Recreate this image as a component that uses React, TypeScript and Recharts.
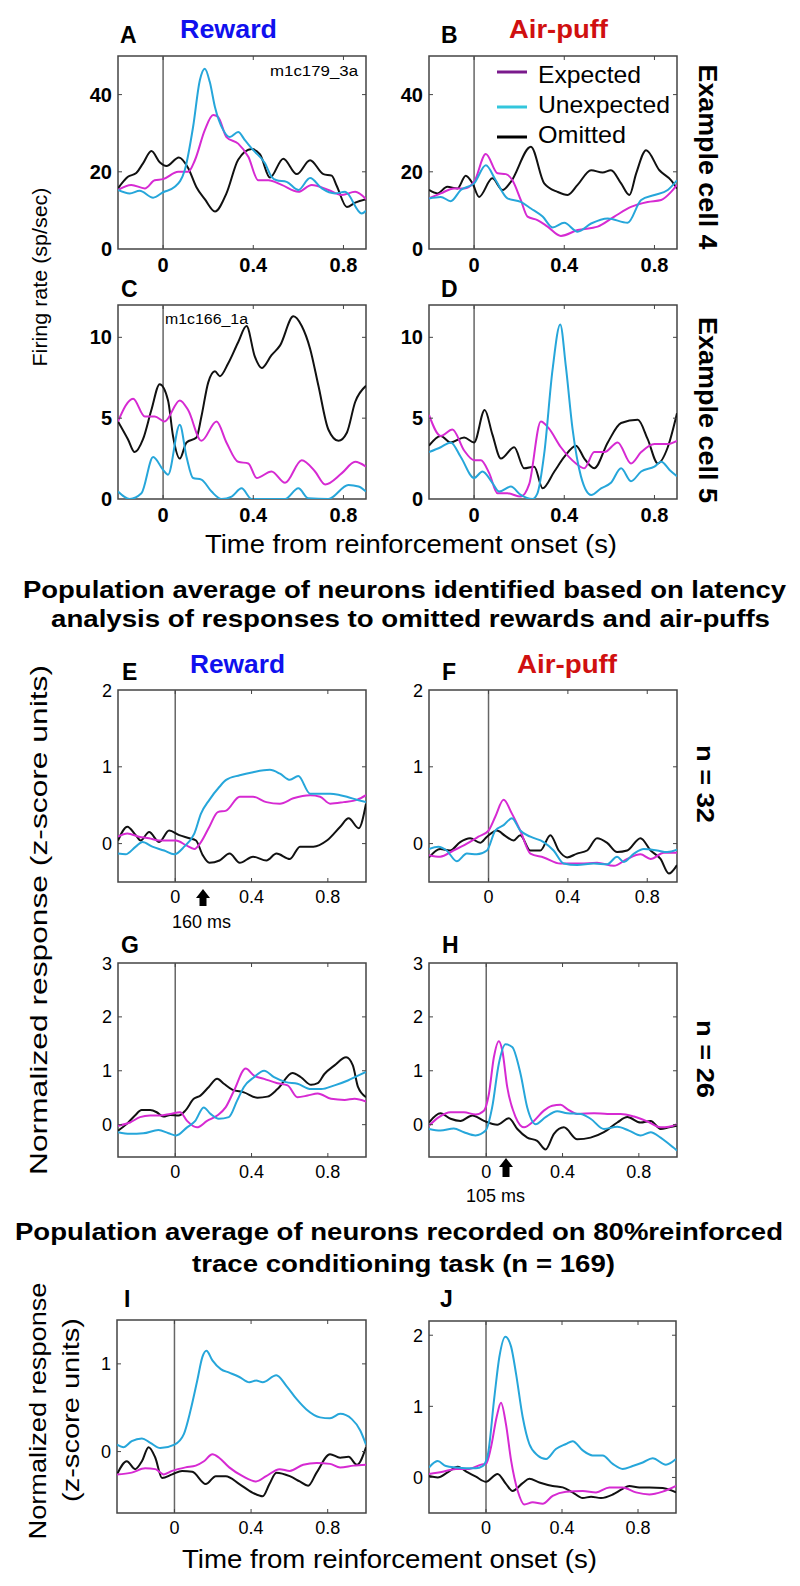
import React from 'react'
import { LineChart, Line, XAxis, YAxis, ReferenceLine, ReferenceArea } from 'recharts'

type Pt = [number, number]

// ── A: reward, example cell 4 ────────────────────────────────────────────
const aExp: Pt[] = [[-0.2,15.3],[-0.141,16.6],[-0.081,15.7],[-0.037,17.8],[0,18.1],[0.067,20],[0.111,20],[0.141,23],[0.185,30.8],[0.222,34.7],[0.244,34.2],[0.281,29],[0.333,27.3],[0.378,23.9],[0.422,17.8],[0.467,17.8],[0.526,16.6],[0.6,14.8],[0.659,16.6],[0.733,15.3],[0.793,14],[0.852,14.8],[0.9,12.9]]
const aUnexp: Pt[] = [[-0.2,15.3],[-0.148,14.4],[-0.104,15.1],[-0.044,13.3],[0,14.7],[0.052,16.1],[0.096,20.4],[0.133,31.6],[0.163,43.7],[0.185,46.7],[0.207,43.3],[0.23,36.8],[0.267,30.8],[0.296,29],[0.333,30.3],[0.363,28.2],[0.4,25.6],[0.452,22.2],[0.481,18.7],[0.504,17.8],[0.548,17.4],[0.6,15.3],[0.652,18.4],[0.704,15.7],[0.763,14.4],[0.807,14.8],[0.881,9.2],[0.9,9.9]]
const aOmit: Pt[] = [[-0.2,15.7],[-0.156,18.7],[-0.119,19.7],[-0.089,22.2],[-0.052,25.4],[-0.015,22.5],[0.015,21.5],[0.07,23.7],[0.111,21],[0.148,16],[0.185,12.9],[0.23,9.7],[0.281,14.4],[0.333,23.1],[0.393,25.9],[0.43,24.5],[0.474,18.5],[0.533,23.4],[0.593,19.4],[0.652,23],[0.711,19.4],[0.748,19],[0.77,16.4],[0.815,10.9],[0.852,12],[0.9,12.9]]

// ── B: air-puff, example cell 4 ──────────────────────────────────────────
const bExp: Pt[] = [[-0.2,13.1],[-0.148,14.4],[-0.089,15.7],[-0.044,15.7],[0,17.4],[0.052,24.6],[0.104,19.6],[0.141,19.4],[0.17,17.8],[0.207,12.7],[0.237,8.4],[0.281,7.5],[0.326,5.8],[0.385,3.4],[0.459,4.9],[0.548,5.8],[0.622,8.4],[0.696,10.9],[0.77,12.2],[0.83,12.7],[0.874,14.8],[0.9,16.6]]
const bUnexp: Pt[] = [[-0.2,13.1],[-0.148,13.5],[-0.104,12.4],[-0.059,15.3],[0,17],[0.052,21.7],[0.096,17.8],[0.148,13.1],[0.207,12.2],[0.252,10.5],[0.304,8.4],[0.348,5.6],[0.4,6.8],[0.459,4.5],[0.519,6.6],[0.593,7.9],[0.681,6.8],[0.741,12.7],[0.8,14],[0.859,15.3],[0.9,17.8]]
const bOmit: Pt[] = [[-0.2,15.3],[-0.163,14.4],[-0.119,16.1],[-0.074,15.7],[-0.037,19],[-0.007,17],[0.022,13.5],[0.081,18.3],[0.126,15.3],[0.163,17.4],[0.252,26.5],[0.311,17],[0.37,14.8],[0.415,14],[0.459,16.6],[0.519,20.4],[0.57,19.8],[0.607,20.4],[0.652,17],[0.689,14],[0.719,19.6],[0.763,25.6],[0.822,20.4],[0.874,17.8],[0.9,15.7]]

// ── C: reward, example cell 5 ────────────────────────────────────────────
const cExp: Pt[] = [[-0.2,4.8],[-0.133,6.2],[-0.081,5.1],[-0.037,5.1],[0.007,4.8],[0.074,6.1],[0.111,5.5],[0.17,3.6],[0.237,4.8],[0.281,3.5],[0.333,2.3],[0.378,2.2],[0.415,1.3],[0.481,1.7],[0.541,1.0],[0.615,2.4],[0.674,1.7],[0.719,0.9],[0.793,1.6],[0.852,2.3],[0.9,2.0]]
const cUnexp: Pt[] = [[-0.2,0.46],[-0.148,0],[-0.096,0.35],[-0.044,2.6],[0,1.8],[0.022,1.5],[0.074,4.6],[0.104,2.6],[0.133,1.3],[0.17,1.2],[0.215,0.46],[0.259,0],[0.304,0.15],[0.348,0.66],[0.393,0],[0.541,0],[0.6,0.66],[0.644,0.04],[0.733,0],[0.822,0.87],[0.867,0.77],[0.9,0.46]]
const cOmit: Pt[] = [[-0.2,4.8],[-0.156,3.7],[-0.126,2.9],[-0.089,3.7],[-0.052,5.5],[-0.015,7.1],[0.022,6.1],[0.044,3.9],[0.074,2.5],[0.104,3.5],[0.148,3.8],[0.17,5.1],[0.2,7.2],[0.23,7.9],[0.252,7.6],[0.289,8.4],[0.333,9.7],[0.37,10.7],[0.407,8.8],[0.437,8.1],[0.481,8.9],[0.519,9.5],[0.578,11.3],[0.615,10.7],[0.652,9.3],[0.689,7.0],[0.733,4.3],[0.778,3.6],[0.815,4.1],[0.852,6.0],[0.9,7.0]]

// ── D: air-puff, example cell 5 ──────────────────────────────────────────
const dExp: Pt[] = [[-0.2,5.2],[-0.148,3.9],[-0.096,4.3],[-0.044,3.0],[0,2.4],[0.03,2.4],[0.067,1.6],[0.104,0.35],[0.148,0.35],[0.207,0.15],[0.244,0.9],[0.296,4.8],[0.33,4.4],[0.385,3.2],[0.452,2.2],[0.489,1.9],[0.533,2.9],[0.578,2.9],[0.637,3.5],[0.696,2.2],[0.741,2.9],[0.8,3.4],[0.859,3.4],[0.9,3.6]]
const dUnexp: Pt[] = [[-0.2,2.9],[-0.148,3.2],[-0.104,3.5],[-0.059,2.6],[0,1.3],[0.037,1.7],[0.081,1.0],[0.111,0.46],[0.163,0.77],[0.207,0.25],[0.259,0],[0.281,0.35],[0.311,2.8],[0.348,8.0],[0.382,10.8],[0.407,8.2],[0.437,4.3],[0.474,1.4],[0.519,0.25],[0.563,0.66],[0.607,1.0],[0.652,1.9],[0.696,1.1],[0.741,1.7],[0.8,2.0],[0.83,2.3],[0.867,1.8],[0.9,1.4]]
const dOmit: Pt[] = [[-0.2,3.3],[-0.148,3.9],[-0.104,3.5],[-0.044,3.8],[0,3.5],[0.047,5.5],[0.081,4.0],[0.119,2.5],[0.178,3.2],[0.222,1.9],[0.267,2.0],[0.304,0.66],[0.356,1.7],[0.4,2.6],[0.452,3.3],[0.489,2.5],[0.533,1.9],[0.593,3.5],[0.652,4.7],[0.726,4.9],[0.77,3.7],[0.815,2.2],[0.859,3.2],[0.9,5.3]]

// ── E: population reward, n = 32 ─────────────────────────────────────────
const eExp: Pt[] = [[-0.3,0.09],[-0.251,0.13],[-0.19,0.09],[-0.137,0.07],[-0.084,0.04],[0.004,0.04],[0.056,-0.02],[0.1,-0.07],[0.135,0.02],[0.179,0.22],[0.223,0.41],[0.267,0.43],[0.338,0.61],[0.408,0.61],[0.478,0.54],[0.549,0.52],[0.619,0.59],[0.707,0.63],[0.76,0.61],[0.812,0.52],[0.883,0.54],[0.953,0.57],[1.0,0.63]]
const eUnexp: Pt[] = [[-0.3,-0.13],[-0.26,-0.14],[-0.207,-0.04],[-0.172,0.02],[-0.12,-0.04],[-0.058,-0.09],[-0.005,-0.14],[0.047,-0.04],[0.1,0.13],[0.135,0.39],[0.179,0.57],[0.232,0.74],[0.267,0.83],[0.338,0.89],[0.408,0.93],[0.496,0.96],[0.549,0.91],[0.601,0.83],[0.645,0.88],[0.707,0.65],[0.76,0.65],[0.812,0.65],[0.865,0.63],[0.9,0.61],[0.952,0.57],[1.0,0.54]]
const eOmit: Pt[] = [[-0.3,0.04],[-0.251,0.22],[-0.207,0.11],[-0.181,0.04],[-0.137,0.15],[-0.084,0.02],[-0.032,0.17],[0.021,0.11],[0.074,0.07],[0.109,0.04],[0.144,-0.15],[0.179,-0.25],[0.232,-0.22],[0.285,-0.13],[0.338,-0.25],[0.408,-0.17],[0.478,-0.22],[0.531,-0.13],[0.601,-0.2],[0.654,-0.04],[0.724,-0.04],[0.795,0.04],[0.865,0.22],[0.909,0.33],[0.962,0.2],[1.0,0.52]]

// ── F: population air-puff, n = 32 ───────────────────────────────────────
const fExp: Pt[] = [[-0.3,-0.15],[-0.244,-0.17],[-0.177,-0.09],[-0.109,0],[-0.051,0.09],[0,0.17],[0.034,0.35],[0.076,0.57],[0.118,0.39],[0.16,0.17],[0.211,-0.13],[0.278,-0.18],[0.362,-0.26],[0.463,-0.26],[0.547,-0.25],[0.632,-0.29],[0.699,-0.2],[0.766,-0.14],[0.817,-0.2],[0.884,-0.12],[0.95,-0.12]]
const fUnexp: Pt[] = [[-0.3,-0.07],[-0.253,-0.04],[-0.211,-0.09],[-0.16,-0.23],[-0.109,-0.13],[-0.059,-0.14],[-0.008,-0.09],[0.034,0.17],[0.076,0.24],[0.118,0.33],[0.16,0.17],[0.211,0.09],[0.278,0.02],[0.328,-0.09],[0.379,-0.26],[0.446,-0.28],[0.531,-0.26],[0.598,-0.27],[0.648,-0.17],[0.682,-0.24],[0.733,-0.13],[0.783,-0.07],[0.85,-0.09],[0.901,-0.11],[0.95,-0.08]]
const fOmit: Pt[] = [[-0.3,-0.18],[-0.244,-0.07],[-0.194,-0.09],[-0.143,0.02],[-0.093,0.07],[-0.042,0.01],[-0.008,0.09],[0.042,0.17],[0.084,0.1],[0.126,0.04],[0.16,0.11],[0.211,-0.09],[0.261,-0.09],[0.312,0.11],[0.354,-0.09],[0.396,-0.18],[0.446,-0.13],[0.497,-0.09],[0.547,0.07],[0.598,0.01],[0.648,-0.11],[0.699,-0.09],[0.766,0.07],[0.817,-0.09],[0.867,-0.2],[0.909,-0.39],[0.95,-0.28]]

// ── G: population reward, n = 26 ─────────────────────────────────────────
const gExp: Pt[] = [[-0.3,-0.02],[-0.237,0.04],[-0.185,0.14],[-0.132,0.17],[-0.079,0.17],[-0.026,0.2],[0.026,0.23],[0.062,0.07],[0.114,-0.05],[0.167,0.07],[0.22,0.17],[0.264,0.32],[0.308,0.63],[0.369,1.04],[0.413,0.91],[0.466,0.85],[0.536,0.77],[0.589,0.73],[0.641,0.51],[0.694,0.54],[0.747,0.58],[0.817,0.48],[0.888,0.46],[0.94,0.48],[1.0,0.43]]
const gUnexp: Pt[] = [[-0.3,-0.14],[-0.237,-0.17],[-0.167,-0.16],[-0.088,-0.1],[-0.035,-0.16],[0.005,-0.2],[0.062,-0.05],[0.105,0.07],[0.149,0.32],[0.185,0.2],[0.228,0.11],[0.281,0.14],[0.325,0.45],[0.36,0.7],[0.413,0.88],[0.466,1.0],[0.518,0.88],[0.58,0.79],[0.641,0.76],[0.712,0.66],[0.765,0.66],[0.835,0.73],[0.905,0.82],[0.958,0.91],[1.0,0.98]]
const gOmit: Pt[] = [[-0.3,-0.11],[-0.255,0.01],[-0.211,0.17],[-0.176,0.27],[-0.132,0.27],[-0.097,0.23],[-0.062,0.15],[-0.026,0.18],[0.018,0.17],[0.053,0.26],[0.097,0.48],[0.132,0.54],[0.176,0.7],[0.22,0.85],[0.255,0.76],[0.299,0.65],[0.36,0.6],[0.431,0.5],[0.483,0.52],[0.536,0.66],[0.615,0.96],[0.659,0.88],[0.712,0.74],[0.747,0.77],[0.782,0.94],[0.835,1.1],[0.896,1.25],[0.931,1.1],[0.958,0.7],[1.0,0.51]]

// ── H: population air-puff, n = 26 ───────────────────────────────────────
const hExp: Pt[] = [[-0.3,-0.02],[-0.248,0.14],[-0.187,0.23],[-0.117,0.23],[-0.056,0.19],[-0.012,0.26],[0.014,0.57],[0.04,1.25],[0.066,1.55],[0.084,1.38],[0.11,0.7],[0.154,0.14],[0.198,-0.05],[0.25,0.07],[0.302,0.26],[0.346,0.35],[0.39,0.37],[0.425,0.29],[0.477,0.2],[0.565,0.21],[0.635,0.2],[0.705,0.2],[0.775,0.15],[0.844,0.06],[0.914,-0.05],[0.958,-0.04],[1.0,0.01]]
const hUnexp: Pt[] = [[-0.3,-0.08],[-0.24,-0.11],[-0.17,-0.07],[-0.117,-0.14],[-0.056,-0.2],[-0.003,-0.11],[0.031,0.32],[0.066,1.13],[0.101,1.49],[0.136,1.44],[0.18,0.94],[0.215,0.32],[0.259,0.01],[0.311,0.14],[0.372,0.25],[0.425,0.21],[0.495,0.2],[0.547,0.11],[0.617,-0.08],[0.687,-0.04],[0.748,-0.11],[0.809,-0.2],[0.862,-0.14],[0.914,-0.24],[0.958,-0.36],[1.0,-0.48]]
const hOmit: Pt[] = [[-0.3,0.04],[-0.24,0.21],[-0.187,0.11],[-0.135,0.07],[-0.073,0.17],[-0.012,0.07],[0.058,0],[0.119,0.12],[0.163,-0.08],[0.215,-0.24],[0.267,-0.3],[0.311,-0.46],[0.355,-0.17],[0.407,-0.05],[0.477,-0.27],[0.547,-0.24],[0.617,-0.14],[0.687,0.04],[0.74,0.14],[0.809,0.04],[0.862,0.07],[0.914,-0.08],[0.958,-0.05],[1.0,-0.02]]

// ── I / J: 80% reinforced trace conditioning, n = 169 ────────────────────
const iExp: Pt[] = [[-0.3,-0.26],[-0.223,-0.24],[-0.153,-0.19],[-0.1,-0.2],[-0.056,-0.26],[-0.012,-0.22],[0.058,-0.18],[0.111,-0.16],[0.154,-0.11],[0.198,-0.03],[0.233,-0.07],[0.286,-0.18],[0.356,-0.28],[0.426,-0.34],[0.479,-0.28],[0.549,-0.2],[0.602,-0.22],[0.672,-0.15],[0.742,-0.13],[0.812,-0.14],[0.865,-0.18],[0.935,-0.16],[1.0,-0.15]]
const iUnexp: Pt[] = [[-0.3,0.08],[-0.267,0.05],[-0.223,0.12],[-0.17,0.15],[-0.126,0.1],[-0.074,0.04],[0,0.08],[0.049,0.2],[0.084,0.47],[0.119,0.81],[0.146,1.08],[0.167,1.15],[0.198,1.04],[0.242,0.94],[0.286,0.9],[0.339,0.85],[0.391,0.79],[0.426,0.81],[0.461,0.79],[0.532,0.87],[0.584,0.75],[0.637,0.6],[0.689,0.48],[0.76,0.39],[0.812,0.38],[0.865,0.43],[0.926,0.37],[0.97,0.24],[1.0,0.08]]
const iOmit: Pt[] = [[-0.3,-0.26],[-0.249,-0.11],[-0.205,-0.2],[-0.17,-0.11],[-0.135,0.05],[-0.1,-0.07],[-0.065,-0.3],[-0.012,-0.26],[0.04,-0.22],[0.093,-0.23],[0.163,-0.37],[0.216,-0.28],[0.268,-0.28],[0.339,-0.37],[0.409,-0.47],[0.461,-0.51],[0.496,-0.37],[0.532,-0.24],[0.602,-0.28],[0.654,-0.34],[0.698,-0.39],[0.742,-0.24],[0.812,-0.03],[0.865,-0.07],[0.909,-0.06],[0.953,-0.15],[1.0,0.05]]

const jExp: Pt[] = [[-0.3,0.05],[-0.228,0.08],[-0.158,0.12],[-0.088,0.12],[-0.026,0.18],[0,0.19],[0.026,0.42],[0.056,0.85],[0.079,1.05],[0.105,0.75],[0.132,0.24],[0.167,-0.19],[0.202,-0.38],[0.246,-0.35],[0.298,-0.37],[0.351,-0.26],[0.421,-0.2],[0.509,-0.19],[0.579,-0.21],[0.649,-0.14],[0.719,-0.14],[0.789,-0.21],[0.86,-0.24],[0.93,-0.2],[1.0,-0.12]]
const jUnexp: Pt[] = [[-0.3,0.14],[-0.254,0.23],[-0.211,0.16],[-0.158,0.14],[-0.105,0.13],[-0.053,0.13],[-0.018,0.16],[0.009,0.31],[0.044,1.13],[0.07,1.69],[0.102,1.98],[0.132,1.84],[0.158,1.46],[0.193,0.85],[0.228,0.47],[0.272,0.31],[0.316,0.26],[0.368,0.4],[0.421,0.47],[0.456,0.51],[0.509,0.38],[0.561,0.31],[0.614,0.31],[0.667,0.19],[0.719,0.12],[0.772,0.16],[0.825,0.21],[0.877,0.27],[0.947,0.18],[1.0,0.26]]
const jOmit: Pt[] = [[-0.3,0.02],[-0.254,0],[-0.202,0.07],[-0.149,0.15],[-0.096,0.07],[-0.053,0.01],[0,-0.06],[0.061,0.05],[0.105,-0.09],[0.14,-0.19],[0.193,-0.08],[0.228,-0.02],[0.281,-0.07],[0.351,-0.12],[0.404,-0.14],[0.456,-0.21],[0.509,-0.29],[0.553,-0.27],[0.605,-0.29],[0.667,-0.24],[0.719,-0.16],[0.754,-0.12],[0.807,-0.14],[0.86,-0.14],[0.93,-0.15],[1.0,-0.21]]

// ticks
const xTicks = [0, 0.4, 0.8]
const yTicksCell4 = [0, 20, 40]
const yTicksCell5 = [0, 5, 10]
const yTicks2 = [0, 1, 2]
const yTicks3 = [0, 1, 2, 3]
const yTicksI = [0, 1]

const MAGENTA = '#d62ad2'
const CYAN = '#26a6da'
const BLACK = '#111'
const FRAME = '#444'
const FONT = '"Liberation Sans", Arial, sans-serif'

interface PanelProps {
  left: number
  top: number
  w: number
  h: number
  xDomain: [number, number]
  yDomain: [number, number]
  yTicks: number[]
  fontSize: number
  boldTicks?: boolean
  exp: Pt[]
  unexp: Pt[]
  omit: Pt[]
}

const YW = 50
const XH = 40
const MT = 10
const MR = 10
const TICK = 4 // inward tick length, px

function Panel({ left, top, w, h, xDomain, yDomain, yTicks, fontSize, boldTicks, exp, unexp, omit }: PanelProps) {
  const series = [
    { d: omit, c: BLACK },
    { d: exp, c: MAGENTA },
    { d: unexp, c: CYAN },
  ]
  const [x0, x1] = xDomain
  const [y0, y1] = yDomain
  const dx = (TICK / w) * (x1 - x0)
  const dy = (TICK / h) * (y1 - y0)
  const tickStyle = { fill: '#000', fontSize, fontWeight: boldTicks ? 'bold' : 'normal' }
  return (
    <div style={{ position: 'absolute', left: left - YW, top: top - MT }}>
      <LineChart width={YW + w + MR} height={MT + h + XH} margin={{ top: MT, right: MR, left: 0, bottom: 0 }}>
        <XAxis
          type="number"
          dataKey="t"
          domain={xDomain}
          ticks={xTicks}
          allowDataOverflow
          height={XH}
          axisLine={false}
          tickLine={false}
          tickSize={6}
          tickMargin={fontSize > 19 ? 3 : 2}
          tick={tickStyle}
        />
        <YAxis
          type="number"
          domain={yDomain}
          ticks={yTicks}
          allowDataOverflow
          width={YW}
          axisLine={false}
          tickLine={false}
          tickSize={6}
          tickMargin={0}
          tick={tickStyle}
        />
        <ReferenceLine x={0} stroke="#666" strokeWidth={1.5} />
        {series.map((s, i) => (
          <Line
            key={i}
            data={s.d.map(([t, v]) => ({ t, v }))}
            dataKey="v"
            type="monotone"
            stroke={s.c}
            strokeWidth={2}
            dot={false}
            activeDot={false}
            isAnimationActive={false}
          />
        ))}
        {/* inward tick marks on all four sides */}
        {xTicks.filter((t) => t > x0 && t < x1).map((t) => (
          <ReferenceLine key={'xb' + t} segment={[{ x: t, y: y0 }, { x: t, y: y0 + dy }]} stroke={FRAME} strokeWidth={1} />
        ))}
        {xTicks.filter((t) => t > x0 && t < x1).map((t) => (
          <ReferenceLine key={'xt' + t} segment={[{ x: t, y: y1 }, { x: t, y: y1 - dy }]} stroke={FRAME} strokeWidth={1} />
        ))}
        {yTicks.filter((v) => v > y0 && v < y1).map((v) => (
          <ReferenceLine key={'yl' + v} segment={[{ x: x0, y: v }, { x: x0 + dx, y: v }]} stroke={FRAME} strokeWidth={1} />
        ))}
        {yTicks.filter((v) => v > y0 && v < y1).map((v) => (
          <ReferenceLine key={'yr' + v} segment={[{ x: x1, y: v }, { x: x1 - dx, y: v }]} stroke={FRAME} strokeWidth={1} />
        ))}
        <ReferenceArea x1={x0} x2={x1} y1={y0} y2={y1} fill="none" fillOpacity={0} stroke={FRAME} strokeWidth={1.5} />
      </LineChart>
    </div>
  )
}

function VText({ x, y, text, len, size, bold, rot }: { x: number; y: number; text: string; len: number; size: number; bold?: boolean; rot: number }) {
  return (
    <text
      x={x}
      y={y}
      transform={`rotate(${rot} ${x} ${y})`}
      textAnchor="middle"
      dominantBaseline="central"
      fontSize={size}
      fontWeight={bold ? 'bold' : 'normal'}
      textLength={len}
      lengthAdjust="spacingAndGlyphs"
    >
      {text}
    </text>
  )
}

function HText({ x, y, text, len, size, bold, fill }: { x: number; y: number; text: string; len?: number; size: number; bold?: boolean; fill?: string }) {
  return (
    <text
      x={x}
      y={y}
      textAnchor="middle"
      fontSize={size}
      fontWeight={bold ? 'bold' : 'normal'}
      fill={fill || '#000'}
      textLength={len}
      lengthAdjust={len ? 'spacingAndGlyphs' : undefined}
    >
      {text}
    </text>
  )
}

export default function App() {
  const cell4: [number, number] = [0, 50]
  const cell5: [number, number] = [0, 12]
  return (
    <div style={{ position: 'absolute', left: 0, top: 0, width: 800, height: 1586, background: '#fff', fontFamily: FONT }}>
      <Panel left={118} top={56} w={248} h={193} xDomain={[-0.2, 0.9]} yDomain={cell4} yTicks={yTicksCell4} fontSize={20} boldTicks exp={aExp} unexp={aUnexp} omit={aOmit} />
      <Panel left={429} top={56} w={248} h={193} xDomain={[-0.2, 0.9]} yDomain={cell4} yTicks={yTicksCell4} fontSize={20} boldTicks exp={bExp} unexp={bUnexp} omit={bOmit} />
      <Panel left={118} top={305} w={248} h={194} xDomain={[-0.2, 0.9]} yDomain={cell5} yTicks={yTicksCell5} fontSize={20} boldTicks exp={cExp} unexp={cUnexp} omit={cOmit} />
      <Panel left={429} top={305} w={248} h={194} xDomain={[-0.2, 0.9]} yDomain={cell5} yTicks={yTicksCell5} fontSize={20} boldTicks exp={dExp} unexp={dUnexp} omit={dOmit} />
      <Panel left={118} top={690} w={248} h={192} xDomain={[-0.3, 1]} yDomain={[-0.5, 2]} yTicks={yTicks2} fontSize={18} exp={eExp} unexp={eUnexp} omit={eOmit} />
      <Panel left={429} top={690} w={248} h={192} xDomain={[-0.3, 0.95]} yDomain={[-0.5, 2]} yTicks={yTicks2} fontSize={18} exp={fExp} unexp={fUnexp} omit={fOmit} />
      <Panel left={118} top={963} w={248} h={194} xDomain={[-0.3, 1]} yDomain={[-0.6, 3]} yTicks={yTicks3} fontSize={18} exp={gExp} unexp={gUnexp} omit={gOmit} />
      <Panel left={429} top={963} w={248} h={194} xDomain={[-0.3, 1]} yDomain={[-0.6, 3]} yTicks={yTicks3} fontSize={18} exp={hExp} unexp={hUnexp} omit={hOmit} />
      <Panel left={117} top={1320} w={249} h={193} xDomain={[-0.3, 1]} yDomain={[-0.7, 1.5]} yTicks={yTicksI} fontSize={18} exp={iExp} unexp={iUnexp} omit={iOmit} />
      <Panel left={429} top={1321} w={247} h={192} xDomain={[-0.3, 1]} yDomain={[-0.5, 2.2]} yTicks={yTicks2} fontSize={18} exp={jExp} unexp={jUnexp} omit={jOmit} />

      <svg width={800} height={1586} style={{ position: 'absolute', left: 0, top: 0, pointerEvents: 'none' }} fontFamily={FONT}>
        {/* panel letters */}
        <g fontSize={23} fontWeight="bold">
          <text x={120} y={43}>A</text>
          <text x={441} y={43}>B</text>
          <text x={121} y={297}>C</text>
          <text x={441} y={297}>D</text>
          <text x={122} y={680}>E</text>
          <text x={442} y={680}>F</text>
          <text x={121} y={953}>G</text>
          <text x={442} y={953}>H</text>
          <text x={124} y={1307}>I</text>
          <text x={440} y={1307}>J</text>
        </g>
        <HText x={228.5} y={38} text="Reward" len={97} size={25} bold fill="#1010ee" />
        <HText x={558.5} y={38} text="Air-puff" len={99} size={25} bold fill="#d01010" />
        <HText x={237.5} y={673} text="Reward" len={95} size={25} bold fill="#1010ee" />
        <HText x={567} y={673} text="Air-puff" len={100} size={25} bold fill="#d01010" />

        {/* legend in B */}
        <line x1={497} x2={527} y1={72} y2={72} stroke="#7a1a8c" strokeWidth={3} />
        <line x1={497} x2={527} y1={107} y2={107} stroke="#33c6dc" strokeWidth={3} />
        <line x1={497} x2={527} y1={137} y2={137} stroke="#000" strokeWidth={3} />
        <text x={538} y={83} fontSize={24} textLength={103} lengthAdjust="spacingAndGlyphs">Expected</text>
        <text x={538} y={113} fontSize={24} textLength={132} lengthAdjust="spacingAndGlyphs">Unexpected</text>
        <text x={538} y={143} fontSize={24} textLength={88} lengthAdjust="spacingAndGlyphs">Omitted</text>

        {/* cell ids */}
        <text x={270} y={76} fontSize={14} textLength={88} lengthAdjust="spacingAndGlyphs">m1c179_3a</text>
        <text x={165} y={324} fontSize={14} textLength={83} lengthAdjust="spacingAndGlyphs">m1c166_1a</text>

        {/* right-side rotated labels */}
        <VText x={708} y={157} text="Example cell 4" len={185} size={25} bold rot={90} />
        <VText x={708} y={410} text="Example cell 5" len={186} size={25} bold rot={90} />
        <VText x={705} y={784} text="n = 32" len={78} size={24} bold rot={90} />
        <VText x={705} y={1059} text="n = 26" len={78} size={24} bold rot={90} />

        {/* y-axis titles */}
        <VText x={39} y={277} text="Firing rate (sp/sec)" len={179} size={21} rot={-90} />
        <VText x={38} y={920} text="Normalized response (z-score units)" len={510} size={24} rot={-90} />
        <VText x={37} y={1411} text="Normalized response" len={257} size={24} rot={-90} />
        <VText x={70} y={1410} text="(z-score units)" len={184} size={24} rot={-90} />

        {/* x-axis titles */}
        <HText x={411} y={553} text="Time from reinforcement onset (s)" len={412} size={25} />
        <HText x={389.5} y={1568} text="Time from reinforcement onset (s)" len={415} size={25} />

        {/* section headings */}
        <HText x={404.5} y={598} text="Population average of neurons identified based on latency" len={763} size={23} bold />
        <HText x={410.5} y={627} text="analysis of responses to omitted rewards and air-puffs" len={719} size={23} bold />
        <HText x={399} y={1240} text="Population average of neurons recorded on 80%reinforced" len={768} size={23} bold />
        <HText x={403.5} y={1272} text="trace conditioning task (n = 169)" len={423} size={23} bold />

        {/* latency arrows */}
        <polygon points="196,898 203,889 210,898 206.5,898 206.5,906 199.5,906 199.5,898" fill="#000" />
        <text x={172} y={928} fontSize={18}>160 ms</text>
        <polygon points="499,1167 506,1158 513,1167 509.5,1167 509.5,1177 502.5,1177 502.5,1167" fill="#000" />
        <text x={466} y={1202} fontSize={18}>105 ms</text>
      </svg>
    </div>
  )
}
